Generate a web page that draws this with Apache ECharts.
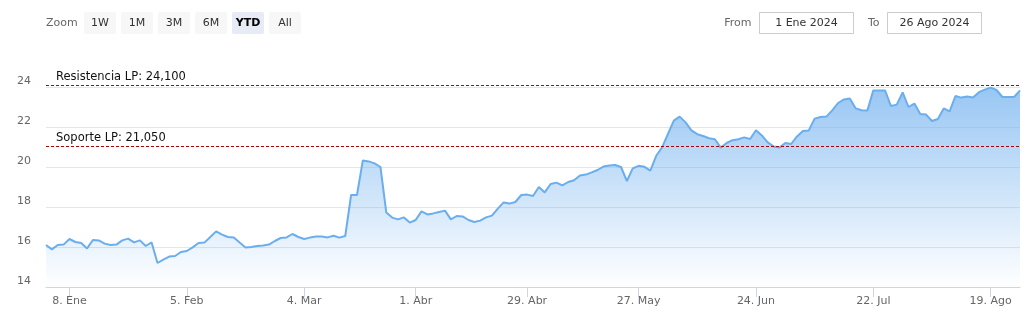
<!DOCTYPE html>
<html><head><meta charset="utf-8">
<script src="https://cdn.jsdelivr.net/npm/echarts@6/dist/echarts.min.js"></script>
<style>html,body{margin:0;padding:0;background:#fff}#c{width:1036px;height:319px}</style>
</head><body><div id="c"></div>
<script>
// Trading days (ordinal axis)
const dates = [
'2024-01-02','2024-01-03','2024-01-04','2024-01-05','2024-01-08','2024-01-09','2024-01-10','2024-01-11','2024-01-12','2024-01-15','2024-01-16','2024-01-17','2024-01-18','2024-01-19','2024-01-22','2024-01-23','2024-01-24','2024-01-25','2024-01-26','2024-01-29','2024-01-30','2024-01-31',
'2024-02-01','2024-02-02','2024-02-05','2024-02-06','2024-02-07','2024-02-08','2024-02-09','2024-02-12','2024-02-13','2024-02-14','2024-02-15','2024-02-16','2024-02-19','2024-02-20','2024-02-21','2024-02-22','2024-02-23','2024-02-26','2024-02-27','2024-02-28','2024-02-29',
'2024-03-01','2024-03-04','2024-03-05','2024-03-06','2024-03-07','2024-03-08','2024-03-11','2024-03-12','2024-03-13','2024-03-14','2024-03-15','2024-03-18','2024-03-19','2024-03-20','2024-03-21','2024-03-22','2024-03-25','2024-03-26','2024-03-27','2024-03-28',
'2024-04-02','2024-04-03','2024-04-04','2024-04-05','2024-04-08','2024-04-09','2024-04-10','2024-04-11','2024-04-12','2024-04-15','2024-04-16','2024-04-17','2024-04-18','2024-04-19','2024-04-22','2024-04-23','2024-04-24','2024-04-25','2024-04-26','2024-04-29','2024-04-30',
'2024-05-02','2024-05-03','2024-05-06','2024-05-07','2024-05-08','2024-05-09','2024-05-10','2024-05-13','2024-05-14','2024-05-15','2024-05-16','2024-05-17','2024-05-20','2024-05-21','2024-05-22','2024-05-23','2024-05-24','2024-05-27','2024-05-28','2024-05-29','2024-05-30','2024-05-31',
'2024-06-03','2024-06-04','2024-06-05','2024-06-06','2024-06-07','2024-06-10','2024-06-11','2024-06-12','2024-06-13','2024-06-14','2024-06-17','2024-06-18','2024-06-19','2024-06-20','2024-06-21','2024-06-24','2024-06-25','2024-06-26','2024-06-27','2024-06-28',
'2024-07-01','2024-07-02','2024-07-03','2024-07-04','2024-07-05','2024-07-08','2024-07-09','2024-07-10','2024-07-11','2024-07-12','2024-07-15','2024-07-16','2024-07-17','2024-07-18','2024-07-19','2024-07-22','2024-07-23','2024-07-24','2024-07-25','2024-07-26','2024-07-29','2024-07-30','2024-07-31',
'2024-08-01','2024-08-02','2024-08-05','2024-08-06','2024-08-07','2024-08-08','2024-08-09','2024-08-12','2024-08-13','2024-08-14','2024-08-15','2024-08-16','2024-08-19','2024-08-20','2024-08-21','2024-08-22','2024-08-23','2024-08-26'
];
const closes = [
16.10,15.88,16.10,16.12,16.40,16.25,16.20,15.93,16.35,16.33,16.17,16.10,16.12,16.33,16.42,16.23,16.33,16.05,16.23,15.20,15.37,15.52,
15.55,15.75,15.80,15.98,16.20,16.22,16.50,16.78,16.62,16.50,16.47,16.22,15.98,16.00,16.05,16.08,16.12,16.30,16.45,16.48,16.65,
16.50,16.40,16.47,16.52,16.52,16.48,16.56,16.47,16.55,18.60,18.60,20.33,20.28,20.18,20.00,17.72,17.47,17.38,17.48,17.22,
17.35,17.78,17.63,17.68,17.75,17.82,17.38,17.55,17.53,17.35,17.25,17.32,17.48,17.57,17.92,18.23,18.17,18.25,18.60,18.62,18.55,
19.00,18.73,19.15,19.22,19.08,19.25,19.34,19.58,19.62,19.73,19.85,20.02,20.07,20.10,20.00,19.30,19.93,20.06,20.01,19.82,20.56,20.98,
21.65,22.32,22.52,22.23,21.83,21.64,21.55,21.44,21.39,20.97,21.20,21.34,21.39,21.48,21.40,21.84,21.58,21.23,21.03,20.97,
21.20,21.15,21.53,21.80,21.83,22.42,22.50,22.52,22.83,23.20,23.38,23.43,22.93,22.84,22.83,23.83,23.82,23.83,23.05,23.12,23.73,23.00,23.17,
22.65,22.62,22.30,22.40,22.93,22.78,23.55,23.47,23.52,23.47,23.74,23.87,23.97,23.85,23.50,23.50,23.50,23.83
];
const yTicks = [14, 16, 18, 20, 22, 24];
const tickDates = ['2024-01-08','2024-02-05','2024-03-04','2024-04-01','2024-04-29','2024-05-27','2024-06-24','2024-07-22','2024-08-19'];
const monthNames = ['Ene','Feb','Mar','Abr','May','Jun','Jul','Ago','Sep','Oct','Nov','Dic'];
const levelValues = [24.1, 21.05];
const levelNames = ['Resistencia LP', 'Soporte LP'];
const rangeButtons = ['1W','1M','3M','6M','YTD','All'];
const selectedRange = 'YTD';
const fromText = '1 Ene 2024';
const toText = '26 Ago 2024';

const FONT = 'DejaVu Sans';
const tickLabelAt = {};
tickDates.forEach(d => {
  const idx = dates.findIndex(x => x >= d);
  const p = d.split('-');
  tickLabelAt[idx] = parseInt(p[2], 10) + '. ' + monthNames[parseInt(p[1], 10) - 1];
});
const isTick = (i) => tickLabelAt.hasOwnProperty(i);

const graphics = [];
graphics.push({type:'text', x: 46, y: 23, style:{text:'Zoom', fill:'#666', font:'11px "DejaVu Sans"', verticalAlign:'middle'}});
rangeButtons.forEach((b, k) => {
  const sel = b === selectedRange;
  const x = 84 + k * 37;
  graphics.push({type:'rect', shape:{x:x, y:12, width:32, height:22, r:2}, style:{fill: sel ? '#e6ebf5' : '#f7f7f7'}});
  graphics.push({type:'text', x: x + 16, y: 23, style:{text:b, fill: sel ? '#000' : '#333', font:(sel?'bold ':'') + '11px "DejaVu Sans"', align:'center', verticalAlign:'middle'}});
});
graphics.push({type:'text', x: 751.5, y: 23, style:{text:'From', fill:'#666', font:'11px "DejaVu Sans"', align:'right', verticalAlign:'middle'}});
graphics.push({type:'rect', shape:{x:759.5, y:12.5, width:94, height:21}, style:{fill:'#fff', stroke:'#cccccc', lineWidth:1}});
graphics.push({type:'text', x: 806.5, y: 23, style:{text:fromText, fill:'#333', font:'11px "DejaVu Sans"', align:'center', verticalAlign:'middle'}});
graphics.push({type:'text', x: 879.5, y: 23, style:{text:'To', fill:'#666', font:'11px "DejaVu Sans"', align:'right', verticalAlign:'middle'}});
graphics.push({type:'rect', shape:{x:887.5, y:12.5, width:94, height:21}, style:{fill:'#fff', stroke:'#cccccc', lineWidth:1}});
graphics.push({type:'text', x: 934.5, y: 23, style:{text:toText, fill:'#333', font:'11px "DejaVu Sans"', align:'center', verticalAlign:'middle'}});

const chart = echarts.init(document.getElementById('c'), null, {renderer:'canvas'});
chart.setOption({
  animation: false,
  backgroundColor: '#fff',
  textStyle: {fontFamily: FONT},
  grid: {left: 46, right: 16, top: 77, bottom: 32, containLabel: false},
  graphic: graphics,
  xAxis: {
    type: 'category', data: dates, boundaryGap: false,
    axisLine: {lineStyle: {color: '#ccd6eb', width: 1}},
    axisTick: {show: true, interval: (i) => isTick(i), length: 10, lineStyle: {color: '#ccd6eb'}},
    axisLabel: {interval: (i) => isTick(i), formatter: (v, i) => tickLabelAt[i] || '', color: '#666', fontSize: 11, fontFamily: FONT, margin: 9},
    splitLine: {show: false}
  },
  yAxis: {
    type: 'value', min: yTicks[0], max: yTicks[yTicks.length-1] + 0.5, interval: yTicks[1] - yTicks[0],
    axisLine: {show: false}, axisTick: {show: false},
    axisLabel: {showMaxLabel: false, color: '#666', fontSize: 11, fontFamily: FONT, margin: 15, verticalAlign: 'bottom', lineHeight: 12},
    splitLine: {show: true, showMaxLine: false, lineStyle: {color: '#e6e6e6', width: 1}}
  },
  series: [{
    type: 'line', data: closes, symbol: 'none', smooth: false,
    lineStyle: {color: '#6aaeee', width: 2},
    itemStyle: {color: '#6aaeee'},
    areaStyle: {color: new echarts.graphic.LinearGradient(0, 0, 0, 1, [
      {offset: 0, color: 'rgba(108,174,238,1)'},
      {offset: 1, color: 'rgba(108,174,238,0)'}
    ])},
    markLine: {
      symbol: 'none', silent: true, animation: false,
      label: {position: 'insideStartTop', distance: [10, 2], color: '#111', fontSize: 11.5, fontFamily: FONT},
      data: levelValues.map((v, i) => ({
        yAxis: v,
        lineStyle: {color: i === 0 ? '#006400' : '#b00000', type: [3, 2], width: 1},
        label: {formatter: levelNames[i] + ': ' + v.toFixed(3).replace('.', ',')}
      }))
    }
  }]
});
</script>
</body></html>
